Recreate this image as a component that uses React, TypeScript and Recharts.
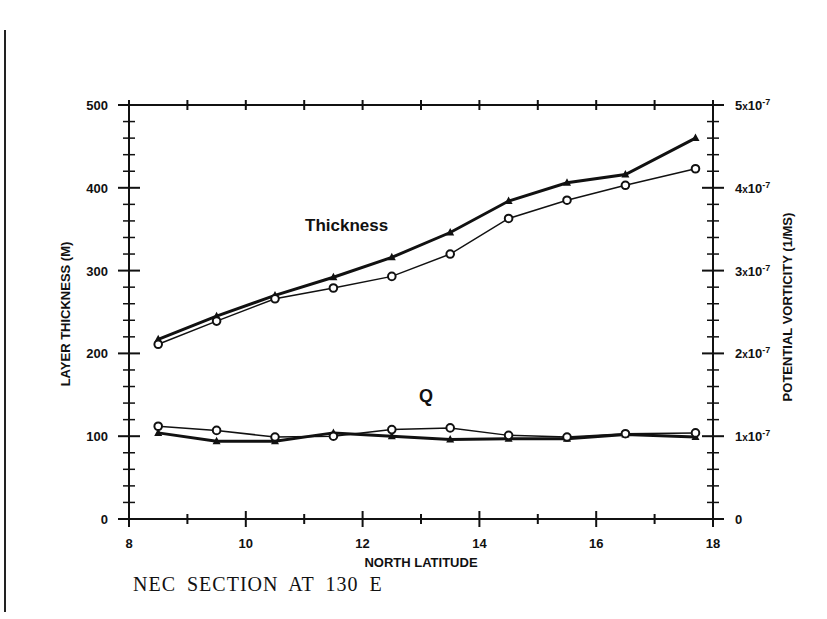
import React from "react";
import { LineChart, Line, XAxis, YAxis } from "recharts";

// north latitude of each station
const latitude = [8.5, 9.5, 10.5, 11.5, 12.5, 13.5, 14.5, 15.5, 16.5, 17.7];
// layer thickness (m)
const thicknessTri = [217, 245, 270, 292, 316, 346, 384, 406, 416, 460];
const thicknessCirc = [211, 239, 266, 279, 293, 320, 363, 385, 403, 423];
// potential vorticity, units of 1e-7 1/(m s)
const qTri = [1.04, 0.94, 0.94, 1.04, 1.0, 0.96, 0.97, 0.97, 1.02, 0.99];
const qCirc = [1.12, 1.07, 0.99, 1.0, 1.08, 1.1, 1.01, 0.99, 1.03, 1.04];

const xTicks = [8, 9, 10, 11, 12, 13, 14, 15, 16, 17, 18];
const leftTicks = Array.from({ length: 26 }, (_, i) => i * 20);
const rightTicks = Array.from({ length: 26 }, (_, i) => i / 5);

const data = latitude.map((lat, i) => ({
  lat,
  thickTri: thicknessTri[i],
  thickCirc: thicknessCirc[i],
  qTri: qTri[i],
  qCirc: qCirc[i],
}));

const INK = "#111";
const SANS = "'Liberation Sans', Arial, sans-serif";

const isWhole = (v: number) => Math.abs(v - Math.round(v)) < 1e-6;

function LeftTick({ x, y, payload }: any) {
  const v = payload.value;
  const major = v % 100 === 0;
  const h = major ? 11 : 6;
  return (
    <g>
      <line x1={x - h} x2={x + h} y1={y} y2={y} stroke={INK} strokeWidth={major ? 2 : 1.5} />
      {major && (
        <text x={x - 21} y={y + 5} textAnchor="end" fontFamily={SANS} fontWeight="bold" fontSize={13} fill={INK}>
          {v}
        </text>
      )}
    </g>
  );
}

function RightTick({ x, y, payload }: any) {
  const v = payload.value;
  const major = isWhole(v);
  const h = major ? 11 : 6;
  const n = Math.round(v);
  return (
    <g>
      <line x1={x - h} x2={x + h} y1={y} y2={y} stroke={INK} strokeWidth={major ? 2 : 1.5} />
      {major && (
        <text x={x + 22} y={y + 5} textAnchor="start" fontFamily={SANS} fontWeight="bold" fontSize={13} fill={INK}>
          {n === 0 ? (
            "0"
          ) : (
            <>
              <tspan>{n}</tspan>
              <tspan fontSize={10}>x</tspan>
              <tspan>10</tspan>
              <tspan dy={-5} fontSize={9}>-7</tspan>
            </>
          )}
        </text>
      )}
    </g>
  );
}

function BottomTick({ x, y, payload }: any) {
  const v = payload.value;
  const major = v % 2 === 0;
  const h = major ? 8 : 5;
  return (
    <g>
      <line x1={x} x2={x} y1={y - h} y2={y + h} stroke={INK} strokeWidth={2} />
      {major && (
        <text x={x} y={y + 29} textAnchor="middle" fontFamily={SANS} fontWeight="bold" fontSize={13} fill={INK}>
          {v}
        </text>
      )}
    </g>
  );
}

function TopTick({ x, y }: any) {
  return <line x1={x} x2={x} y1={y - 5} y2={y + 5} stroke={INK} strokeWidth={2} />;
}

function Triangle({ cx, cy }: any) {
  if (cx == null || cy == null) return null;
  return <path d={`M${cx},${cy - 4.5} L${cx + 4},${cy + 3} L${cx - 4},${cy + 3} Z`} fill={INK} />;
}

function Ring({ cx, cy }: any) {
  if (cx == null || cy == null) return null;
  return <circle cx={cx} cy={cy} r={3.8} fill="#fff" stroke={INK} strokeWidth={2} />;
}

export default function App() {
  return (
    <div style={{ position: "absolute", left: 0, top: 0, width: 827, height: 619, background: "#fff" }}>
      <LineChart width={827} height={619} data={data} margin={{ top: 95, right: 74, bottom: 70, left: 89 }}>
        <XAxis
          xAxisId="bottom"
          dataKey="lat"
          type="number"
          domain={[8, 18]}
          ticks={xTicks}
          height={30}
          tickSize={0}
          tickMargin={0}
          tickLine={false}
          axisLine={{ stroke: INK, strokeWidth: 2 }}
          tick={<BottomTick />}
          interval={0}
        />
        <XAxis
          xAxisId="top"
          orientation="top"
          dataKey="lat"
          type="number"
          domain={[8, 18]}
          ticks={xTicks}
          height={10}
          tickSize={0}
          tickMargin={0}
          tickLine={false}
          axisLine={{ stroke: INK, strokeWidth: 2 }}
          tick={<TopTick />}
          interval={0}
        />
        <YAxis
          yAxisId="left"
          type="number"
          domain={[0, 500]}
          ticks={leftTicks}
          width={40}
          tickSize={0}
          tickMargin={0}
          tickLine={false}
          axisLine={{ stroke: INK, strokeWidth: 2 }}
          tick={<LeftTick />}
          interval={0}
        />
        <YAxis
          yAxisId="right"
          orientation="right"
          type="number"
          domain={[0, 5]}
          ticks={rightTicks}
          width={40}
          tickSize={0}
          tickMargin={0}
          tickLine={false}
          axisLine={{ stroke: INK, strokeWidth: 2 }}
          tick={<RightTick />}
          interval={0}
        />
        <Line
          xAxisId="bottom"
          yAxisId="left"
          dataKey="thickTri"
          stroke={INK}
          strokeWidth={3}
          dot={<Triangle />}
          isAnimationActive={false}
        />
        <Line
          xAxisId="bottom"
          yAxisId="left"
          dataKey="thickCirc"
          stroke={INK}
          strokeWidth={1.5}
          dot={<Ring />}
          isAnimationActive={false}
        />
        <Line
          xAxisId="bottom"
          yAxisId="right"
          dataKey="qTri"
          stroke={INK}
          strokeWidth={3}
          dot={<Triangle />}
          isAnimationActive={false}
        />
        <Line
          xAxisId="bottom"
          yAxisId="right"
          dataKey="qCirc"
          stroke={INK}
          strokeWidth={1.5}
          dot={<Ring />}
          isAnimationActive={false}
        />
      </LineChart>
      <svg width={827} height={619} style={{ position: "absolute", left: 0, top: 0, pointerEvents: "none" }}>
        <line x1={5} x2={5} y1={30} y2={612} stroke="#222" strokeWidth={2} />
        <text x={305} y={231} fontFamily={SANS} fontWeight="bold" fontSize={17} fill={INK}>
          Thickness
        </text>
        <text x={426} y={402} textAnchor="middle" fontFamily={SANS} fontWeight="bold" fontSize={18} fill={INK}>
          Q
        </text>
        <text
          x={70}
          y={314}
          transform="rotate(-90 70 314)"
          textAnchor="middle"
          fontFamily={SANS}
          fontWeight="bold"
          fontSize={13}
          fill={INK}
        >
          LAYER THICKNESS (M)
        </text>
        <text
          x={792}
          y={307}
          transform="rotate(-90 792 307)"
          textAnchor="middle"
          fontFamily={SANS}
          fontWeight="bold"
          fontSize={13}
          fill={INK}
        >
          POTENTIAL VORTICITY (1/MS)
        </text>
        <text x={421} y={567} textAnchor="middle" fontFamily={SANS} fontWeight="bold" fontSize={13} fill={INK}>
          NORTH LATITUDE
        </text>
        <text
          x={133}
          y={591}
          fontFamily="'Liberation Serif', 'Times New Roman', serif"
          fontSize={20}
          letterSpacing={1}
          wordSpacing={5}
          fill={INK}
        >
          NEC SECTION AT 130 E
        </text>
      </svg>
    </div>
  );
}
